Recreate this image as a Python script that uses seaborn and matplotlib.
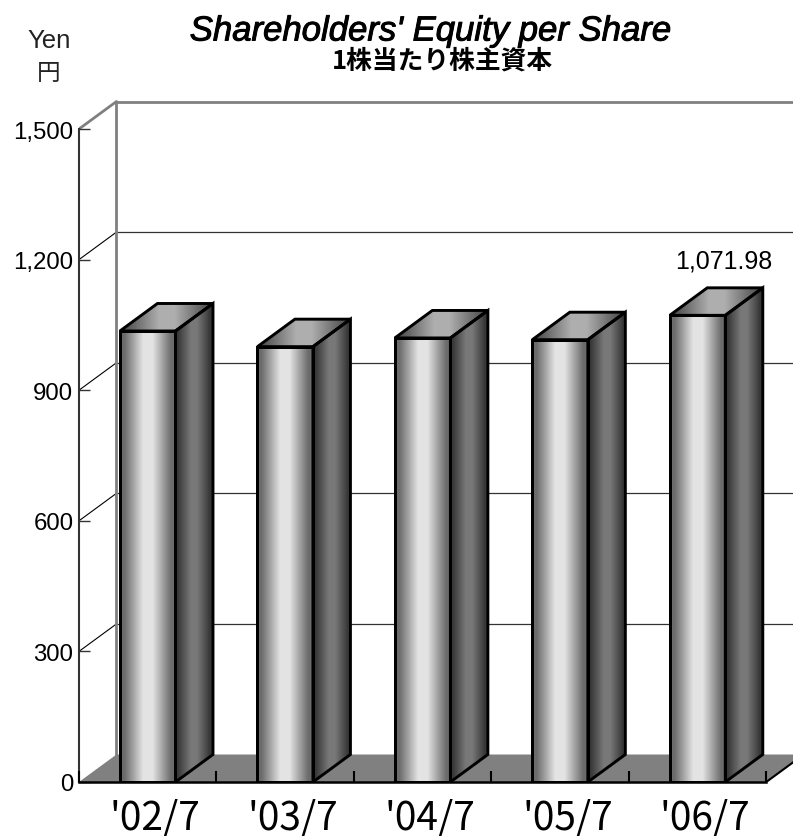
import numpy as np
import pandas as pd
import seaborn as sns
import matplotlib.pyplot as plt
import matplotlib.patheffects as pe
from matplotlib.patches import Polygon

periods = ["'02/7", "'03/7", "'04/7", "'05/7", "'06/7"]
equity = [1036, 1000, 1020, 1016, 1071.98]
yticks = [0, 300, 600, 900, 1200, 1500]
ytick_labels = ['0', '300', '600', '900', '1,200', '1,500']

sns.set_theme(style='white')
plt.rcParams['font.family'] = ['Liberation Sans', 'Noto Sans CJK JP']

W, H = 793, 837
fig = plt.figure(figsize=(W / 100, H / 100), dpi=100)
# axes in pixels: y=0 sits at 783, 1500 at 130, categories 137.5px apart
unit_y = 653 / 1500
unit_x = 137.5
ax = fig.add_axes([79 / W, 1 - 783 / H, (W - 79) / W, (783 - 90) / H])
ax.patch.set_alpha(0)
ax.set_axisbelow(False)

df = pd.DataFrame({'period': periods, 'equity': equity})
sns.barplot(data=df, x='period', y='equity', width=0.404, fill=False, color='black',
            linewidth=2.1, zorder=4, ax=ax)
bars = list(ax.patches)

x_left = -0.5
x_right = (W - 147.5) / unit_x
depth_x = 37.5 / unit_x
depth_y = 27.5 / unit_y

# floor
floor_right = len(periods) - 0.5
ax.add_patch(Polygon([(x_left, 0), (x_left + depth_x, depth_y), (floor_right + depth_x, depth_y), (floor_right, 0)],
                     facecolor='#808080', edgecolor='none', zorder=1))
ax.plot([floor_right, floor_right + depth_x], [0, depth_y], color='black', lw=1.5, zorder=1.5)

# back wall
wall_top = yticks[-1] + depth_y
ax.plot([x_left + depth_x] * 2, [depth_y, wall_top], color='#808080', lw=2, zorder=1.5)
ax.plot([x_left + depth_x, x_right], [wall_top, wall_top], color='#808080', lw=2, zorder=1.5)
ax.plot([x_left, x_left + depth_x], [yticks[-1], wall_top], color='#808080', lw=2, zorder=1.5)
for v in yticks[1:-1]:
    ax.plot([x_left + depth_x, x_right], [v + depth_y, v + depth_y], color='#333333', lw=0.9, zorder=1.2)
    ax.plot([x_left, x_left + depth_x], [v, v + depth_y], color='black', lw=0.8, zorder=1.2)


def shade(points, lo, hi):
    pts = np.array(points)
    poly = Polygon(pts, facecolor='none', edgecolor='black', lw=2.1, joinstyle='miter', zorder=4)
    ax.add_patch(poly)
    ramp = np.array([lo, (lo + hi) / 2, hi, hi, (lo + hi) / 2, lo])[None, :]
    img = ax.imshow(ramp, cmap='gray', vmin=0, vmax=1, aspect='auto', interpolation='bilinear',
                    extent=(pts[:, 0].min(), pts[:, 0].max(), pts[:, 1].min(), pts[:, 1].max()), zorder=3)
    img.set_clip_path(poly)


for bar in bars:
    x0, w, h = bar.get_x(), bar.get_width(), bar.get_height()
    x1 = x0 + w
    shade([(x0, 0), (x1, 0), (x1, h), (x0, h)], 0.42, 0.89)
    shade([(x1, 0), (x1 + depth_x, depth_y), (x1 + depth_x, h + depth_y), (x1, h)], 0.22, 0.47)
    shade([(x0, h), (x1, h), (x1 + depth_x, h + depth_y), (x0 + depth_x, h + depth_y)], 0.33, 0.68)

ax.set_xlim(x_left, x_right)
ax.set_ylim(0, 693 / unit_y)

# axes and ticks
for s in ['top', 'right']:
    ax.spines[s].set_visible(False)
ax.spines['left'].set_bounds(0, yticks[-1])
ax.spines['left'].set_color('#333333')
ax.spines['left'].set_linewidth(1.5)
ax.spines['bottom'].set_bounds(x_left, floor_right)
ax.spines['bottom'].set_color('black')
ax.spines['bottom'].set_linewidth(1.8)
ax.spines['bottom'].set_zorder(5)
ax.set_xlabel('')
ax.set_ylabel('')
ax.set_yticks(yticks, ytick_labels, fontsize=17.3, color='black')
ax.tick_params(axis='y', direction='in', length=8, width=1, color='#333333', pad=4, left=True)

ax.set_xticks(np.arange(len(periods)) + 0.055, periods, fontsize=28, color='black',
              family=['Noto Sans CJK JP', 'DejaVu Sans'])
ax.set_xticks(np.arange(len(periods) + 1) - 0.5, minor=True)
ax.tick_params(axis='x', which='major', length=0, pad=11, bottom=False)
ax.tick_params(axis='x', which='minor', direction='in', length=8, width=1.5, color='black', bottom=True)

# only the last bar carries a value label
ax.text(4 + depth_x / 2 + 0.055, equity[-1] + 127, f'{equity[-1]:,.2f}', ha='center', va='center',
        fontsize=18, color='black', zorder=6)

title = fig.text(431 / W, 1 - 32 / H, "Shareholders' Equity per Share", ha='center', va='center',
                 fontsize=25, style='italic', color='black', family=['Liberation Sans', 'Noto Sans CJK JP'])
title.set_path_effects([pe.withStroke(linewidth=0.7, foreground='black')])
fig.text(442 / W, 1 - 61 / H, '1株当たり株主資本', ha='center', va='center', fontsize=18.5, weight='bold',
         color='black', family=['Noto Sans CJK JP', 'DejaVu Sans'])
fig.text(49 / W, 1 - 41 / H, 'Yen', ha='center', va='center', fontsize=18.5, color='#222222')
fig.text(49 / W, 1 - 73 / H, '円', ha='center', va='center', fontsize=17, color='#222222',
         family=['Noto Sans CJK JP', 'DejaVu Sans'])

fig.savefig('out.png', dpi=100, facecolor='white')
